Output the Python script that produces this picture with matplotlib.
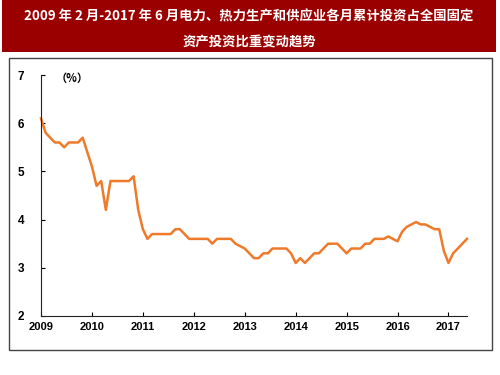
import matplotlib
matplotlib.use('Agg')
import matplotlib.pyplot as plt
from matplotlib.patches import Rectangle

plt.rcParams['font.family'] = ['Liberation Sans', 'Noto Sans CJK SC', 'DejaVu Sans']

# monthly cumulative share (%), Feb 2009 - Jun 2017 (no January figures)
share = [
    6.1, 5.8, 5.7, 5.6, 5.6, 5.5, 5.6, 5.6, 5.6, 5.7, 5.4,   # 2009
    5.1, 4.7, 4.8, 4.2, 4.8, 4.8, 4.8, 4.8, 4.8, 4.9, 4.2,   # 2010
    3.8, 3.6, 3.7, 3.7, 3.7, 3.7, 3.7, 3.8, 3.8, 3.7, 3.6,   # 2011
    3.6, 3.6, 3.6, 3.6, 3.5, 3.6, 3.6, 3.6, 3.6, 3.5, 3.45,  # 2012
    3.4, 3.3, 3.2, 3.2, 3.3, 3.3, 3.4, 3.4, 3.4, 3.4, 3.3,   # 2013
    3.1, 3.2, 3.1, 3.2, 3.3, 3.3, 3.4, 3.5, 3.5, 3.5, 3.4,   # 2014
    3.3, 3.4, 3.4, 3.4, 3.5, 3.5, 3.6, 3.6, 3.6, 3.65, 3.6,  # 2015
    3.55, 3.75, 3.85, 3.9, 3.95, 3.9, 3.9, 3.85, 3.8, 3.8, 3.35,  # 2016
    3.1, 3.3, 3.4, 3.5, 3.6,                                 # 2017
]
years = ['2009', '2010', '2011', '2012', '2013', '2014', '2015', '2016', '2017']
title = '2009 年 2 月-2017 年 6 月电力、热力生产和供应业各月累计投资占全国固定\n资产投资比重变动趋势'

fig = plt.figure(figsize=(5, 3.75), dpi=100)
W, H = 500, 375

# red title banner
fig.patches.append(Rectangle((2 / W, 1 - 52 / H), 494 / W, 52 / H, transform=fig.transFigure,
                             facecolor='#9B0000', edgecolor='none', zorder=0))
fig.text(0.498, 1 - 29 / H, title, ha='center', va='center', color='white',
         fontsize=9.6, fontweight='bold', linespacing=1.95,
         family=['Noto Sans CJK SC', 'DejaVu Sans'])
# chart frame
fig.patches.append(Rectangle((9 / W, 1 - 350 / H), 483 / W, 292 / H, transform=fig.transFigure,
                             facecolor='white', edgecolor='#444444', lw=1.0, zorder=0))

ax = fig.add_axes([41 / W, 1 - 316 / H, 426 / W, 241 / H], zorder=5)
x = list(range(len(share)))
ax.plot(x, share, color='#EE7A2A', lw=1.8, solid_joinstyle='round', clip_on=False)

ax.set_xlim(0, len(share) - 1)
ax.set_ylim(2, 7)
ax.set_yticks([2, 3, 4, 5, 6, 7])
ax.set_xticks([i * 11 for i in range(len(years))])
ax.set_xticklabels(years)
for s in ['top', 'right']:
    ax.spines[s].set_visible(False)
for s in ['left', 'bottom']:
    ax.spines[s].set_linewidth(0.8)
    ax.spines[s].set_color('#222222')
ax.tick_params(axis='y', direction='in', length=3, width=0.8, pad=12, labelsize=8.5)
ax.tick_params(axis='x', direction='in', length=3, width=0.8, pad=4, labelsize=8)
for lab in ax.get_xticklabels() + ax.get_yticklabels():
    lab.set_fontweight('bold')
ax.text(0.035, 0.985, '（%）', transform=ax.transAxes, ha='left', va='center',
        fontsize=8, fontweight='bold', family=['Noto Sans CJK SC', 'DejaVu Sans'])
ax.patch.set_alpha(0)

fig.savefig('out.png', dpi=100, facecolor='white')
